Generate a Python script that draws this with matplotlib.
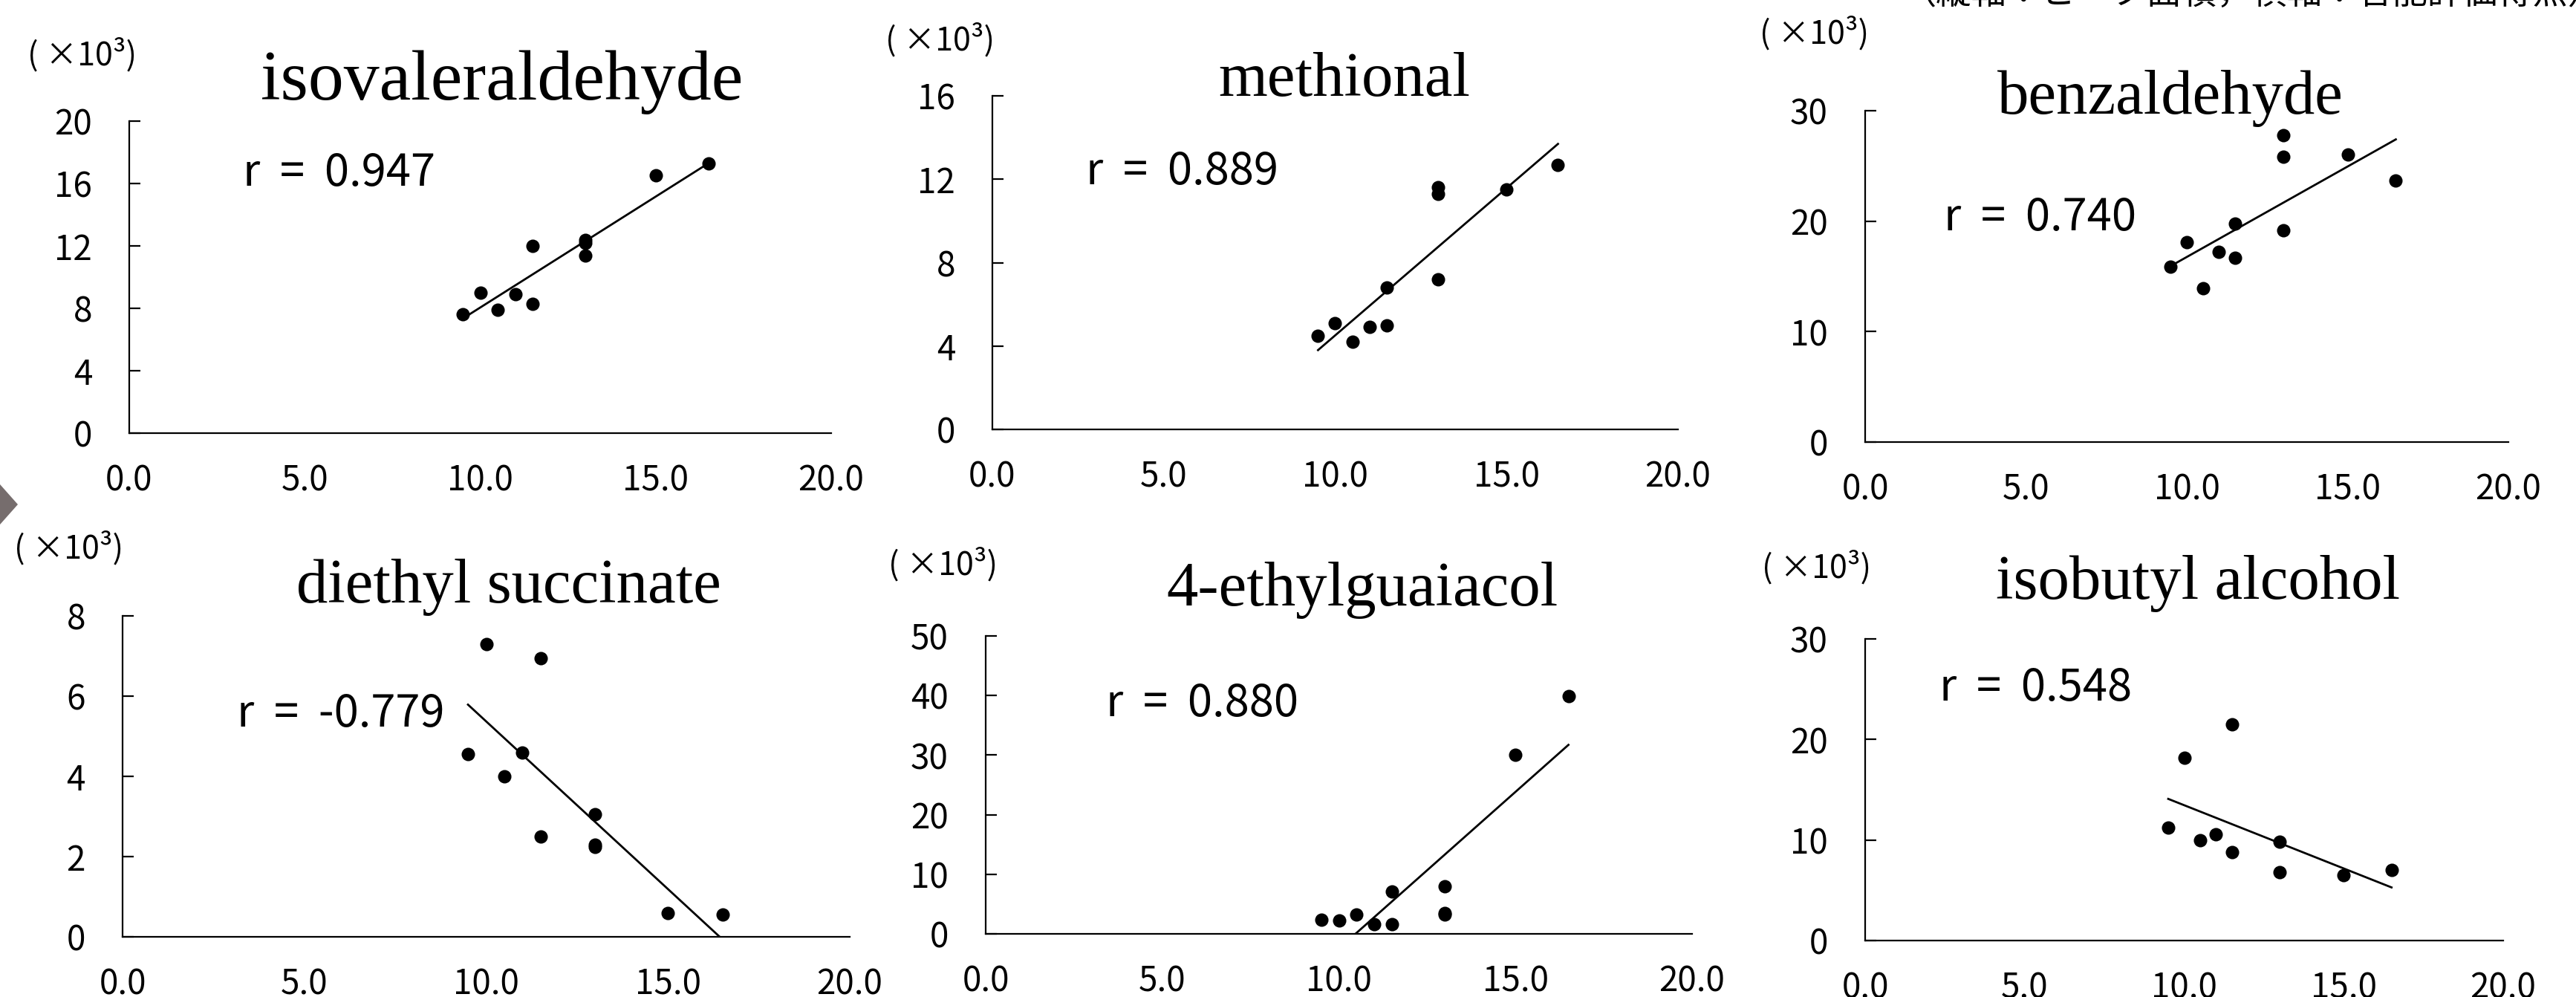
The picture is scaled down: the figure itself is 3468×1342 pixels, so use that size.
import matplotlib
matplotlib.use("Agg")
import matplotlib.pyplot as plt
from matplotlib import font_manager
from matplotlib.patches import Polygon
import numpy as np

W, H = 3468, 1342

# data (y values in units of 10^3)
x_common = [9.5, 10.0, 10.5, 11.0, 11.5, 11.5, 13.0, 13.0, 13.0, 15.0, 16.5]
x_isobutyl = [9.5, 10.0, 10.5, 11.0, 11.5, 11.5, 13.0, 13.0, 15.0, 16.5]

y_isovaleraldehyde = [7.6, 9.0, 7.9, 8.9, 12.0, 8.3, 12.4, 12.2, 11.4, 16.5, 17.3]
y_methional = [4.5, 5.1, 4.2, 4.9, 5.0, 6.8, 11.6, 11.3, 7.2, 11.5, 12.7]
y_benzaldehyde = [15.9, 18.1, 13.9, 17.2, 19.8, 16.7, 27.8, 25.8, 19.2, 26.0, 23.7]
y_diethyl = [4.55, 7.3, 4.0, 4.6, 6.95, 2.5, 3.05, 2.3, 2.25, 0.6, 0.55]
y_ethylguaiacol = [2.4, 2.2, 3.2, 1.6, 7.1, 1.6, 8.0, 3.5, 3.2, 30.0, 39.9]
y_isobutyl = [11.2, 18.2, 10.0, 10.6, 21.5, 8.8, 9.8, 6.8, 6.5, 7.0]

names = ["isovaleraldehyde", "methional", "benzaldehyde",
         "diethyl succinate", "4-ethylguaiacol", "isobutyl alcohol"]
r_labels = ["r = 0.947", "r = 0.889", "r = 0.740",
            "r = -0.779", "r = 0.880", "r = 0.548"]
slopes = [1.422, 1.413, 1.638, -0.836, 5.26, -1.258]
intercepts = [-6.17, -9.62, 0.375, 13.73, -55.07, 26.04]
y_max = [20, 16, 30, 8, 50, 30]
y_step = [4, 4, 10, 2, 10, 10]
x_ticks = [0, 5, 10, 15, 20]
x_ticklabels = ["0.0", "5.0", "10.0", "15.0", "20.0"]

xs = [x_common] * 5 + [x_isobutyl]
ys = [y_isovaleraldehyde, y_methional, y_benzaldehyde,
      y_diethyl, y_ethylguaiacol, y_isobutyl]

# layout in pixels (left, right, top, bottom of plot area)
boxes = [(174, 1119, 163, 583), (1336, 2259, 129, 578), (2511, 3377, 149, 595),
         (165, 1144, 829, 1261), (1327, 2278, 856, 1257), (2511, 3370, 860, 1266)]
title_pos = [(676, 134), (1810, 129), (2922, 153), (685, 811), (1834, 815), (2959, 806)]
title_size = [69, 61, 61, 61, 61, 61]
r_pos = [(327, 250), (1462, 248), (2617, 310), (319, 978), (1489, 964), (2611, 943)]
unit_pos = [(37, 74), (1192, 54), (2369, 45), (19, 738), (1196, 760), (2372, 764)]

sans = ["Noto Sans CJK JP", "DejaVu Sans"]
plt.rcParams["font.family"] = sans

# the r labels use a narrow face if one is installed
r_family, r_size = sans, 43
for cand in ["Liberation Sans Narrow", "DejaVu Sans Condensed"]:
    try:
        font_manager.findfont(font_manager.FontProperties(family=cand),
                              fallback_to_default=False)
        r_family, r_size = [cand, "DejaVu Sans"], 45
        break
    except ValueError:
        pass

fig = plt.figure(figsize=(W / 100, H / 100), dpi=100)


def fx(px):
    return px / W


def fy(py):
    return 1 - py / H


for i in range(6):
    l, r, t, b = boxes[i]
    ax = fig.add_axes([fx(l), fy(b), (r - l) / W, (b - t) / H])
    x = np.array(xs[i])
    y = np.array(ys[i])
    ax.plot(x, y, "o", color="black", markersize=13, markeredgewidth=0)
    xl = np.array([x.min(), x.max()])
    ax.plot(xl, slopes[i] * xl + intercepts[i], color="black", linewidth=2.0)

    ax.set_xlim(0, 20)
    ax.set_ylim(0, y_max[i])
    ax.set_xticks(x_ticks)
    ax.set_xticklabels(x_ticklabels)
    ax.set_yticks(np.arange(0, y_max[i] + 1, y_step[i]))
    for s in ["top", "right"]:
        ax.spines[s].set_visible(False)
    for s in ["left", "bottom"]:
        ax.spines[s].set_linewidth(1.6)
    ax.tick_params(axis="y", direction="in", length=11, width=1.6, pad=36,
                   labelsize=33)
    ax.tick_params(axis="x", length=0, pad=29, labelsize=33)

    fig.text(fx(title_pos[i][0]), fy(title_pos[i][1]), names[i],
             family="Liberation Serif", fontsize=title_size[i],
             ha="center", va="baseline")
    fig.text(fx(r_pos[i][0]), fy(r_pos[i][1]), r_labels[i].replace(" ", "  "),
             family=r_family, fontsize=r_size, ha="left", va="baseline")
    fig.text(fx(unit_pos[i][0]), fy(unit_pos[i][1]), "( ×10³)",
             fontsize=31, ha="left", va="center")

# note at the top right, mostly cut off by the picture edge
fig.text(fx(2559), fy(5), "（縦軸：ピーク面積，横軸：官能評価得点）",
         fontsize=34, ha="left", va="baseline")

# grey arrow shape on the left edge
arrow = Polygon([(fx(0), fy(652)), (fx(24), fy(679)), (fx(0), fy(706))],
                closed=True, transform=fig.transFigure,
                facecolor="#766d6d", edgecolor="none")
fig.patches.append(arrow)

fig.savefig("out.png", dpi=100)
